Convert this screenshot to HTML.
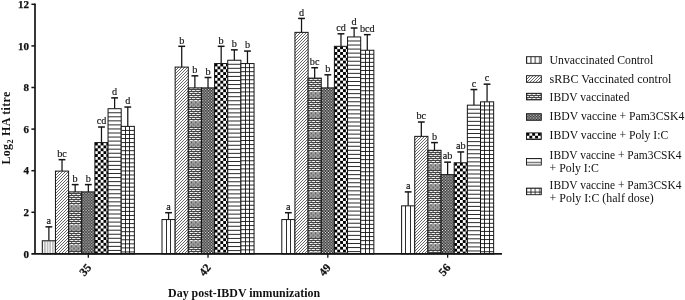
<!DOCTYPE html>
<html lang="en"><head><meta charset="utf-8"><title>Log2 HA titre chart</title>
<style>
html,body{margin:0;padding:0;background:#fff;}
body{width:685px;height:300px;overflow:hidden;font-family:"Liberation Serif","DejaVu Serif",serif;}
svg{display:block;}
</style></head><body>
<svg width="685" height="300" viewBox="0 0 685 300" font-family="'Liberation Serif', 'DejaVu Serif', serif" fill="#111">

<defs>
<pattern id="pv" width="4.383" height="8" patternUnits="userSpaceOnUse"><rect width="4.383" height="8" fill="#fff"/><rect x="-0.45" y="0" width="0.9" height="8" fill="#141414"/><rect x="3.933" y="0" width="0.9" height="8" fill="#141414"/></pattern>
<pattern id="pv5" width="2.630" height="8" patternUnits="userSpaceOnUse"><rect width="2.630" height="8" fill="#fff"/><rect x="-0.5" y="0" width="1" height="8" fill="#909090"/><rect x="2.130" y="0" width="1" height="8" fill="#909090"/></pattern>
<pattern id="ph" width="8" height="4.05" patternUnits="userSpaceOnUse"><rect width="8" height="4.05" fill="#fff"/><rect x="0" y="-0.45" width="8" height="0.9" fill="#141414"/><rect x="0" y="3.600" width="8" height="0.9" fill="#141414"/></pattern>
<pattern id="pg" width="4.383" height="4.05" patternUnits="userSpaceOnUse"><rect width="4.383" height="4.05" fill="#fff"/><rect x="0" y="-0.42" width="4.383" height="0.84" fill="#141414"/><rect x="0" y="3.630" width="4.383" height="0.84" fill="#141414"/><rect x="-0.42" y="0" width="0.84" height="4.05" fill="#141414"/><rect x="3.963" y="0" width="0.84" height="4.05" fill="#141414"/></pattern>
<pattern id="pd" width="3.000" height="3.000" patternUnits="userSpaceOnUse"><rect width="3.000" height="3.000" fill="#fff"/><path d="M-1,4.000 L4.000,-1 M-1,1 L1,-1 M2.000,4.000 L4.000,2.000" stroke="#2a2a2a" stroke-width="0.72"/></pattern>
<pattern id="pb" width="4.383" height="20" patternUnits="userSpaceOnUse"><rect width="4.383" height="20" fill="#f2f2f2"/><rect x="0" y="0" width="4.383" height="1" fill="#444"/><rect x="0.40" y="1" width="1.0" height="1" fill="#444"/><rect x="0" y="2" width="4.383" height="1" fill="#444"/><rect x="2.59" y="3" width="1.0" height="1" fill="#444"/><rect x="0" y="4" width="4.383" height="1" fill="#444"/><rect x="0.40" y="5" width="1.0" height="1" fill="#444"/><rect x="0" y="6" width="4.383" height="1" fill="#444"/><rect x="2.59" y="7" width="1.0" height="1" fill="#444"/><rect x="0" y="8" width="4.383" height="1" fill="#444"/><rect x="0.40" y="9" width="1.0" height="1" fill="#444"/><rect x="0" y="10" width="4.383" height="1" fill="#444"/><rect x="2.59" y="11" width="1.0" height="1" fill="#444"/><rect x="0" y="12" width="4.383" height="1" fill="#444"/><rect x="0.40" y="13" width="1.0" height="1" fill="#444"/><rect x="0" y="14.5" width="4.383" height="1" fill="#555"/><rect x="2.59" y="14.5" width="1.1" height="2" fill="#505050"/><rect x="0" y="16.5" width="4.383" height="1" fill="#555"/><rect x="0.40" y="16.5" width="1.1" height="2" fill="#505050"/><rect x="0" y="18.5" width="4.383" height="1" fill="#555"/><rect x="2.59" y="18.5" width="1.1" height="2" fill="#505050"/></pattern>
<pattern id="pf" width="20.046" height="20.046" patternUnits="userSpaceOnUse"><rect width="20.046" height="20.046" fill="#000"/><g fill="#fff"><circle cx="0.00" cy="0.00" r="0.8"/><circle cx="0.00" cy="2.86" r="0.8"/><circle cx="0.00" cy="5.73" r="0.8"/><circle cx="0.00" cy="8.59" r="0.8"/><circle cx="0.00" cy="11.46" r="0.8"/><circle cx="0.00" cy="14.32" r="0.8"/><circle cx="0.00" cy="17.18" r="0.8"/><circle cx="0.00" cy="20.05" r="0.8"/><circle cx="1.43" cy="1.43" r="0.8"/><circle cx="1.43" cy="4.30" r="0.8"/><circle cx="1.43" cy="7.16" r="0.8"/><circle cx="1.43" cy="10.02" r="0.8"/><circle cx="1.43" cy="12.89" r="0.8"/><circle cx="1.43" cy="15.75" r="0.8"/><circle cx="1.43" cy="18.61" r="0.8"/><circle cx="2.86" cy="0.00" r="0.8"/><circle cx="2.86" cy="2.86" r="0.8"/><circle cx="2.86" cy="5.73" r="0.8"/><circle cx="2.86" cy="8.59" r="0.8"/><circle cx="2.86" cy="11.46" r="0.8"/><circle cx="2.86" cy="14.32" r="0.8"/><circle cx="2.86" cy="17.18" r="0.8"/><circle cx="2.86" cy="20.05" r="0.8"/><circle cx="4.30" cy="1.43" r="0.8"/><circle cx="4.30" cy="4.30" r="0.8"/><circle cx="4.30" cy="7.16" r="0.8"/><circle cx="4.30" cy="10.02" r="0.8"/><circle cx="4.30" cy="12.89" r="0.8"/><circle cx="4.30" cy="15.75" r="0.8"/><circle cx="4.30" cy="18.61" r="0.8"/><circle cx="5.73" cy="0.00" r="0.8"/><circle cx="5.73" cy="2.86" r="0.8"/><circle cx="5.73" cy="5.73" r="0.8"/><circle cx="5.73" cy="8.59" r="0.8"/><circle cx="5.73" cy="11.46" r="0.8"/><circle cx="5.73" cy="14.32" r="0.8"/><circle cx="5.73" cy="17.18" r="0.8"/><circle cx="5.73" cy="20.05" r="0.8"/><circle cx="7.16" cy="1.43" r="0.8"/><circle cx="7.16" cy="4.30" r="0.8"/><circle cx="7.16" cy="7.16" r="0.8"/><circle cx="7.16" cy="10.02" r="0.8"/><circle cx="7.16" cy="12.89" r="0.8"/><circle cx="7.16" cy="15.75" r="0.8"/><circle cx="7.16" cy="18.61" r="0.8"/><circle cx="8.59" cy="0.00" r="0.8"/><circle cx="8.59" cy="2.86" r="0.8"/><circle cx="8.59" cy="5.73" r="0.8"/><circle cx="8.59" cy="8.59" r="0.8"/><circle cx="8.59" cy="11.46" r="0.8"/><circle cx="8.59" cy="14.32" r="0.8"/><circle cx="8.59" cy="17.18" r="0.8"/><circle cx="8.59" cy="20.05" r="0.8"/><circle cx="10.02" cy="1.43" r="0.8"/><circle cx="10.02" cy="4.30" r="0.8"/><circle cx="10.02" cy="7.16" r="0.8"/><circle cx="10.02" cy="10.02" r="0.8"/><circle cx="10.02" cy="12.89" r="0.8"/><circle cx="10.02" cy="15.75" r="0.8"/><circle cx="10.02" cy="18.61" r="0.8"/><circle cx="11.46" cy="0.00" r="0.8"/><circle cx="11.46" cy="2.86" r="0.8"/><circle cx="11.46" cy="5.73" r="0.8"/><circle cx="11.46" cy="8.59" r="0.8"/><circle cx="11.46" cy="11.46" r="0.8"/><circle cx="11.46" cy="14.32" r="0.8"/><circle cx="11.46" cy="17.18" r="0.8"/><circle cx="11.46" cy="20.05" r="0.8"/><circle cx="12.89" cy="1.43" r="0.8"/><circle cx="12.89" cy="4.30" r="0.8"/><circle cx="12.89" cy="7.16" r="0.8"/><circle cx="12.89" cy="10.02" r="0.8"/><circle cx="12.89" cy="12.89" r="0.8"/><circle cx="12.89" cy="15.75" r="0.8"/><circle cx="12.89" cy="18.61" r="0.8"/><circle cx="14.32" cy="0.00" r="0.8"/><circle cx="14.32" cy="2.86" r="0.8"/><circle cx="14.32" cy="5.73" r="0.8"/><circle cx="14.32" cy="8.59" r="0.8"/><circle cx="14.32" cy="11.46" r="0.8"/><circle cx="14.32" cy="14.32" r="0.8"/><circle cx="14.32" cy="17.18" r="0.8"/><circle cx="14.32" cy="20.05" r="0.8"/><circle cx="15.75" cy="1.43" r="0.8"/><circle cx="15.75" cy="4.30" r="0.8"/><circle cx="15.75" cy="7.16" r="0.8"/><circle cx="15.75" cy="10.02" r="0.8"/><circle cx="15.75" cy="12.89" r="0.8"/><circle cx="15.75" cy="15.75" r="0.8"/><circle cx="15.75" cy="18.61" r="0.8"/><circle cx="17.18" cy="0.00" r="0.8"/><circle cx="17.18" cy="2.86" r="0.8"/><circle cx="17.18" cy="5.73" r="0.8"/><circle cx="17.18" cy="8.59" r="0.8"/><circle cx="17.18" cy="11.46" r="0.8"/><circle cx="17.18" cy="14.32" r="0.8"/><circle cx="17.18" cy="17.18" r="0.8"/><circle cx="17.18" cy="20.05" r="0.8"/><circle cx="18.61" cy="1.43" r="0.8"/><circle cx="18.61" cy="4.30" r="0.8"/><circle cx="18.61" cy="7.16" r="0.8"/><circle cx="18.61" cy="10.02" r="0.8"/><circle cx="18.61" cy="12.89" r="0.8"/><circle cx="18.61" cy="15.75" r="0.8"/><circle cx="18.61" cy="18.61" r="0.8"/><circle cx="20.05" cy="0.00" r="0.8"/><circle cx="20.05" cy="2.86" r="0.8"/><circle cx="20.05" cy="5.73" r="0.8"/><circle cx="20.05" cy="8.59" r="0.8"/><circle cx="20.05" cy="11.46" r="0.8"/><circle cx="20.05" cy="14.32" r="0.8"/><circle cx="20.05" cy="17.18" r="0.8"/><circle cx="20.05" cy="20.05" r="0.8"/></g></pattern>
<pattern id="pc" width="5.728" height="5.728" patternUnits="userSpaceOnUse"><rect width="5.728" height="5.728" fill="#fff"/><rect x="0" y="0" width="2.864" height="2.864" fill="#000"/><rect x="2.864" y="2.864" width="2.864" height="2.864" fill="#000"/></pattern>
</defs>

<rect width="685" height="300" fill="#fff"/>
<path d="M48.88,240.78 V226.84" stroke="#141414" stroke-width="1.25" fill="none"/><path d="M45.48,226.84 H52.27" stroke="#141414" stroke-width="1.5" fill="none"/>
<g transform="translate(42.30,240.78)"><rect x="0.00" y="0.00" width="13.15" height="13.12" fill="url(#pv5)" stroke="#141414" stroke-width="1"/></g>
<text x="48.88" y="224.14" font-size="10.2" stroke="#111" stroke-width="0.15" text-anchor="middle">a</text>
<path d="M62.02,171.10 V159.66" stroke="#141414" stroke-width="1.25" fill="none"/><path d="M58.62,159.66 H65.42" stroke="#141414" stroke-width="1.5" fill="none"/>
<g transform="translate(0.00,0.00)"><rect x="55.45" y="171.10" width="13.15" height="82.80" fill="url(#pd)" stroke="#141414" stroke-width="1"/></g>
<text x="62.02" y="156.96" font-size="10.2" stroke="#111" stroke-width="0.15" text-anchor="middle">bc</text>
<path d="M75.17,191.90 V184.62" stroke="#141414" stroke-width="1.25" fill="none"/><path d="M71.77,184.62 H78.58" stroke="#141414" stroke-width="1.5" fill="none"/>
<g transform="translate(68.60,191.00)"><rect x="0.00" y="0.90" width="13.15" height="62.00" fill="url(#pb)" stroke="#141414" stroke-width="1"/></g>
<text x="75.17" y="181.92" font-size="10.2" stroke="#111" stroke-width="0.15" text-anchor="middle">b</text>
<path d="M88.33,191.90 V184.62" stroke="#141414" stroke-width="1.25" fill="none"/><path d="M84.92,184.62 H91.73" stroke="#141414" stroke-width="1.5" fill="none"/>
<g transform="translate(81.75,191.90)"><rect x="0.00" y="0.00" width="13.15" height="62.00" fill="url(#pf)" stroke="#141414" stroke-width="1"/></g>
<text x="88.33" y="181.92" font-size="10.2" stroke="#111" stroke-width="0.15" text-anchor="middle">b</text>
<path d="M101.48,142.60 V127.00" stroke="#141414" stroke-width="1.25" fill="none"/><path d="M98.08,127.00 H104.88" stroke="#141414" stroke-width="1.5" fill="none"/>
<g transform="translate(94.90,142.60)"><rect x="0.00" y="0.00" width="13.15" height="111.30" fill="url(#pc)" stroke="#141414" stroke-width="1"/></g>
<text x="101.48" y="124.30" font-size="10.2" stroke="#111" stroke-width="0.15" text-anchor="middle">cd</text>
<path d="M114.62,108.70 V97.88" stroke="#141414" stroke-width="1.25" fill="none"/><path d="M111.22,97.88 H118.03" stroke="#141414" stroke-width="1.5" fill="none"/>
<rect x="108.05" y="108.70" width="13.15" height="145.20" fill="#fff" stroke="#141414" stroke-width="1"/><path d="M108.05,112.75h13.15M108.05,116.80h13.15M108.05,120.85h13.15M108.05,124.90h13.15M108.05,128.95h13.15M108.05,133.00h13.15M108.05,137.05h13.15M108.05,141.10h13.15M108.05,145.15h13.15M108.05,149.20h13.15M108.05,153.25h13.15M108.05,157.30h13.15M108.05,161.35h13.15M108.05,165.40h13.15M108.05,169.45h13.15M108.05,173.50h13.15M108.05,177.55h13.15M108.05,181.60h13.15M108.05,185.65h13.15M108.05,189.70h13.15M108.05,193.75h13.15M108.05,197.80h13.15M108.05,201.85h13.15M108.05,205.90h13.15M108.05,209.95h13.15M108.05,214.00h13.15M108.05,218.05h13.15M108.05,222.10h13.15M108.05,226.15h13.15M108.05,230.20h13.15M108.05,234.25h13.15M108.05,238.30h13.15M108.05,242.35h13.15M108.05,246.40h13.15M108.05,250.45h13.15" stroke="#141414" stroke-width="0.9" fill="none"/>
<text x="114.62" y="95.18" font-size="10.2" stroke="#111" stroke-width="0.15" text-anchor="middle">d</text>
<path d="M127.78,126.38 V107.04" stroke="#141414" stroke-width="1.25" fill="none"/><path d="M124.38,107.04 H131.18" stroke="#141414" stroke-width="1.5" fill="none"/>
<rect x="121.20" y="126.38" width="13.15" height="127.52" fill="#fff" stroke="#141414" stroke-width="1"/><path d="M125.5,126.38V253.90M129.5,126.38V253.90M121.20,130.43h13.15M121.20,134.48h13.15M121.20,138.53h13.15M121.20,142.58h13.15M121.20,146.63h13.15M121.20,150.68h13.15M121.20,154.73h13.15M121.20,158.78h13.15M121.20,162.83h13.15M121.20,166.88h13.15M121.20,170.93h13.15M121.20,174.98h13.15M121.20,179.03h13.15M121.20,183.08h13.15M121.20,187.13h13.15M121.20,191.18h13.15M121.20,195.23h13.15M121.20,199.28h13.15M121.20,203.33h13.15M121.20,207.38h13.15M121.20,211.43h13.15M121.20,215.48h13.15M121.20,219.53h13.15M121.20,223.58h13.15M121.20,227.63h13.15M121.20,231.68h13.15M121.20,235.73h13.15M121.20,239.78h13.15M121.20,243.83h13.15M121.20,247.88h13.15M121.20,251.93h13.15" stroke="#141414" stroke-width="0.9" fill="none"/>
<text x="127.78" y="104.34" font-size="10.2" stroke="#111" stroke-width="0.15" text-anchor="middle">d</text>
<path d="M168.57,219.56 V212.70" stroke="#141414" stroke-width="1.25" fill="none"/><path d="M165.17,212.70 H171.97" stroke="#141414" stroke-width="1.5" fill="none"/>
<rect x="162.00" y="219.56" width="13.15" height="34.34" fill="#fff" stroke="#141414" stroke-width="1"/><path d="M166.5,219.56V253.90M170.5,219.56V253.90" stroke="#141414" stroke-width="0.9" fill="none"/>
<text x="168.57" y="210.00" font-size="10.2" stroke="#111" stroke-width="0.15" text-anchor="middle">a</text>
<path d="M181.72,67.10 V46.30" stroke="#141414" stroke-width="1.25" fill="none"/><path d="M178.32,46.30 H185.12" stroke="#141414" stroke-width="1.5" fill="none"/>
<g transform="translate(0.00,0.00)"><rect x="175.15" y="67.10" width="13.15" height="186.80" fill="url(#pd)" stroke="#141414" stroke-width="1"/></g>
<text x="181.72" y="43.60" font-size="10.2" stroke="#111" stroke-width="0.15" text-anchor="middle">b</text>
<path d="M194.88,87.90 V75.84" stroke="#141414" stroke-width="1.25" fill="none"/><path d="M191.47,75.84 H198.28" stroke="#141414" stroke-width="1.5" fill="none"/>
<g transform="translate(188.30,87.00)"><rect x="0.00" y="0.90" width="13.15" height="166.00" fill="url(#pb)" stroke="#141414" stroke-width="1"/></g>
<text x="194.88" y="73.14" font-size="10.2" stroke="#111" stroke-width="0.15" text-anchor="middle">b</text>
<path d="M208.02,87.90 V77.50" stroke="#141414" stroke-width="1.25" fill="none"/><path d="M204.62,77.50 H211.42" stroke="#141414" stroke-width="1.5" fill="none"/>
<g transform="translate(201.45,87.90)"><rect x="0.00" y="0.00" width="13.15" height="166.00" fill="url(#pf)" stroke="#141414" stroke-width="1"/></g>
<text x="208.02" y="74.80" font-size="10.2" stroke="#111" stroke-width="0.15" text-anchor="middle">b</text>
<path d="M221.17,63.56 V46.30" stroke="#141414" stroke-width="1.25" fill="none"/><path d="M217.77,46.30 H224.57" stroke="#141414" stroke-width="1.5" fill="none"/>
<g transform="translate(214.60,63.56)"><rect x="0.00" y="0.00" width="13.15" height="190.34" fill="url(#pc)" stroke="#141414" stroke-width="1"/></g>
<text x="221.17" y="43.60" font-size="10.2" stroke="#111" stroke-width="0.15" text-anchor="middle">b</text>
<path d="M234.32,60.24 V49.84" stroke="#141414" stroke-width="1.25" fill="none"/><path d="M230.92,49.84 H237.72" stroke="#141414" stroke-width="1.5" fill="none"/>
<rect x="227.75" y="60.24" width="13.15" height="193.66" fill="#fff" stroke="#141414" stroke-width="1"/><path d="M227.75,64.29h13.15M227.75,68.34h13.15M227.75,72.39h13.15M227.75,76.44h13.15M227.75,80.49h13.15M227.75,84.54h13.15M227.75,88.59h13.15M227.75,92.64h13.15M227.75,96.69h13.15M227.75,100.74h13.15M227.75,104.79h13.15M227.75,108.84h13.15M227.75,112.89h13.15M227.75,116.94h13.15M227.75,120.99h13.15M227.75,125.04h13.15M227.75,129.09h13.15M227.75,133.14h13.15M227.75,137.19h13.15M227.75,141.24h13.15M227.75,145.29h13.15M227.75,149.34h13.15M227.75,153.39h13.15M227.75,157.44h13.15M227.75,161.49h13.15M227.75,165.54h13.15M227.75,169.59h13.15M227.75,173.64h13.15M227.75,177.69h13.15M227.75,181.74h13.15M227.75,185.79h13.15M227.75,189.84h13.15M227.75,193.89h13.15M227.75,197.94h13.15M227.75,201.99h13.15M227.75,206.04h13.15M227.75,210.09h13.15M227.75,214.14h13.15M227.75,218.19h13.15M227.75,222.24h13.15M227.75,226.29h13.15M227.75,230.34h13.15M227.75,234.39h13.15M227.75,238.44h13.15M227.75,242.49h13.15M227.75,246.54h13.15M227.75,250.59h13.15" stroke="#141414" stroke-width="0.9" fill="none"/>
<text x="234.32" y="47.14" font-size="10.2" stroke="#111" stroke-width="0.15" text-anchor="middle">b</text>
<path d="M247.47,63.56 V51.08" stroke="#141414" stroke-width="1.25" fill="none"/><path d="M244.07,51.08 H250.88" stroke="#141414" stroke-width="1.5" fill="none"/>
<rect x="240.90" y="63.56" width="13.15" height="190.34" fill="#fff" stroke="#141414" stroke-width="1"/><path d="M245.5,63.56V253.90M249.5,63.56V253.90M240.90,67.61h13.15M240.90,71.66h13.15M240.90,75.71h13.15M240.90,79.76h13.15M240.90,83.81h13.15M240.90,87.86h13.15M240.90,91.91h13.15M240.90,95.96h13.15M240.90,100.01h13.15M240.90,104.06h13.15M240.90,108.11h13.15M240.90,112.16h13.15M240.90,116.21h13.15M240.90,120.26h13.15M240.90,124.31h13.15M240.90,128.36h13.15M240.90,132.41h13.15M240.90,136.46h13.15M240.90,140.51h13.15M240.90,144.56h13.15M240.90,148.61h13.15M240.90,152.66h13.15M240.90,156.71h13.15M240.90,160.76h13.15M240.90,164.81h13.15M240.90,168.86h13.15M240.90,172.91h13.15M240.90,176.96h13.15M240.90,181.01h13.15M240.90,185.06h13.15M240.90,189.11h13.15M240.90,193.16h13.15M240.90,197.21h13.15M240.90,201.26h13.15M240.90,205.31h13.15M240.90,209.36h13.15M240.90,213.41h13.15M240.90,217.46h13.15M240.90,221.51h13.15M240.90,225.56h13.15M240.90,229.61h13.15M240.90,233.66h13.15M240.90,237.71h13.15M240.90,241.76h13.15M240.90,245.81h13.15M240.90,249.86h13.15" stroke="#141414" stroke-width="0.9" fill="none"/>
<text x="247.47" y="48.38" font-size="10.2" stroke="#111" stroke-width="0.15" text-anchor="middle">b</text>
<path d="M288.38,219.56 V212.70" stroke="#141414" stroke-width="1.25" fill="none"/><path d="M284.98,212.70 H291.77" stroke="#141414" stroke-width="1.5" fill="none"/>
<rect x="281.80" y="219.56" width="13.15" height="34.34" fill="#fff" stroke="#141414" stroke-width="1"/><path d="M286.5,219.56V253.90M290.5,219.56V253.90" stroke="#141414" stroke-width="0.9" fill="none"/>
<text x="288.38" y="210.00" font-size="10.2" stroke="#111" stroke-width="0.15" text-anchor="middle">a</text>
<path d="M301.52,32.36 V18.43" stroke="#141414" stroke-width="1.25" fill="none"/><path d="M298.12,18.43 H304.92" stroke="#141414" stroke-width="1.5" fill="none"/>
<g transform="translate(0.00,0.00)"><rect x="294.95" y="32.36" width="13.15" height="221.54" fill="url(#pd)" stroke="#141414" stroke-width="1"/></g>
<text x="301.52" y="15.73" font-size="10.2" stroke="#111" stroke-width="0.15" text-anchor="middle">d</text>
<path d="M314.68,78.12 V67.72" stroke="#141414" stroke-width="1.25" fill="none"/><path d="M311.28,67.72 H318.07" stroke="#141414" stroke-width="1.5" fill="none"/>
<g transform="translate(308.10,78.00)"><rect x="0.00" y="0.12" width="13.15" height="175.78" fill="url(#pb)" stroke="#141414" stroke-width="1"/></g>
<text x="314.68" y="65.02" font-size="10.2" stroke="#111" stroke-width="0.15" text-anchor="middle">bc</text>
<path d="M327.82,87.90 V74.80" stroke="#141414" stroke-width="1.25" fill="none"/><path d="M324.43,74.80 H331.22" stroke="#141414" stroke-width="1.5" fill="none"/>
<g transform="translate(321.25,87.90)"><rect x="0.00" y="0.00" width="13.15" height="166.00" fill="url(#pf)" stroke="#141414" stroke-width="1"/></g>
<text x="327.82" y="72.10" font-size="10.2" stroke="#111" stroke-width="0.15" text-anchor="middle">b</text>
<path d="M340.98,46.30 V33.82" stroke="#141414" stroke-width="1.25" fill="none"/><path d="M337.58,33.82 H344.38" stroke="#141414" stroke-width="1.5" fill="none"/>
<g transform="translate(334.40,46.30)"><rect x="0.00" y="0.00" width="13.15" height="207.60" fill="url(#pc)" stroke="#141414" stroke-width="1"/></g>
<text x="340.98" y="31.12" font-size="10.2" stroke="#111" stroke-width="0.15" text-anchor="middle">cd</text>
<path d="M354.12,36.94 V28.00" stroke="#141414" stroke-width="1.25" fill="none"/><path d="M350.73,28.00 H357.52" stroke="#141414" stroke-width="1.5" fill="none"/>
<rect x="347.55" y="36.94" width="13.15" height="216.96" fill="#fff" stroke="#141414" stroke-width="1"/><path d="M347.55,40.99h13.15M347.55,45.04h13.15M347.55,49.09h13.15M347.55,53.14h13.15M347.55,57.19h13.15M347.55,61.24h13.15M347.55,65.29h13.15M347.55,69.34h13.15M347.55,73.39h13.15M347.55,77.44h13.15M347.55,81.49h13.15M347.55,85.54h13.15M347.55,89.59h13.15M347.55,93.64h13.15M347.55,97.69h13.15M347.55,101.74h13.15M347.55,105.79h13.15M347.55,109.84h13.15M347.55,113.89h13.15M347.55,117.94h13.15M347.55,121.99h13.15M347.55,126.04h13.15M347.55,130.09h13.15M347.55,134.14h13.15M347.55,138.19h13.15M347.55,142.24h13.15M347.55,146.29h13.15M347.55,150.34h13.15M347.55,154.39h13.15M347.55,158.44h13.15M347.55,162.49h13.15M347.55,166.54h13.15M347.55,170.59h13.15M347.55,174.64h13.15M347.55,178.69h13.15M347.55,182.74h13.15M347.55,186.79h13.15M347.55,190.84h13.15M347.55,194.89h13.15M347.55,198.94h13.15M347.55,202.99h13.15M347.55,207.04h13.15M347.55,211.09h13.15M347.55,215.14h13.15M347.55,219.19h13.15M347.55,223.24h13.15M347.55,227.29h13.15M347.55,231.34h13.15M347.55,235.39h13.15M347.55,239.44h13.15M347.55,243.49h13.15M347.55,247.54h13.15M347.55,251.59h13.15" stroke="#141414" stroke-width="0.9" fill="none"/>
<text x="354.12" y="25.30" font-size="10.2" stroke="#111" stroke-width="0.15" text-anchor="middle">d</text>
<path d="M367.28,50.25 V34.65" stroke="#141414" stroke-width="1.25" fill="none"/><path d="M363.88,34.65 H370.68" stroke="#141414" stroke-width="1.5" fill="none"/>
<rect x="360.70" y="50.25" width="13.15" height="203.65" fill="#fff" stroke="#141414" stroke-width="1"/><path d="M365.5,50.25V253.90M369.5,50.25V253.90M360.70,54.30h13.15M360.70,58.35h13.15M360.70,62.40h13.15M360.70,66.45h13.15M360.70,70.50h13.15M360.70,74.55h13.15M360.70,78.60h13.15M360.70,82.65h13.15M360.70,86.70h13.15M360.70,90.75h13.15M360.70,94.80h13.15M360.70,98.85h13.15M360.70,102.90h13.15M360.70,106.95h13.15M360.70,111.00h13.15M360.70,115.05h13.15M360.70,119.10h13.15M360.70,123.15h13.15M360.70,127.20h13.15M360.70,131.25h13.15M360.70,135.30h13.15M360.70,139.35h13.15M360.70,143.40h13.15M360.70,147.45h13.15M360.70,151.50h13.15M360.70,155.55h13.15M360.70,159.60h13.15M360.70,163.65h13.15M360.70,167.70h13.15M360.70,171.75h13.15M360.70,175.80h13.15M360.70,179.85h13.15M360.70,183.90h13.15M360.70,187.95h13.15M360.70,192.00h13.15M360.70,196.05h13.15M360.70,200.10h13.15M360.70,204.15h13.15M360.70,208.20h13.15M360.70,212.25h13.15M360.70,216.30h13.15M360.70,220.35h13.15M360.70,224.40h13.15M360.70,228.45h13.15M360.70,232.50h13.15M360.70,236.55h13.15M360.70,240.60h13.15M360.70,244.65h13.15M360.70,248.70h13.15" stroke="#141414" stroke-width="0.9" fill="none"/>
<text x="367.28" y="31.95" font-size="10.2" stroke="#111" stroke-width="0.15" text-anchor="middle">bcd</text>
<path d="M408.18,205.84 V191.90" stroke="#141414" stroke-width="1.25" fill="none"/><path d="M404.78,191.90 H411.57" stroke="#141414" stroke-width="1.5" fill="none"/>
<rect x="401.60" y="205.84" width="13.15" height="48.06" fill="#fff" stroke="#141414" stroke-width="1"/><path d="M405.5,205.84V253.90M410.5,205.84V253.90" stroke="#141414" stroke-width="0.9" fill="none"/>
<text x="408.18" y="189.20" font-size="10.2" stroke="#111" stroke-width="0.15" text-anchor="middle">a</text>
<path d="M421.32,136.36 V122.01" stroke="#141414" stroke-width="1.25" fill="none"/><path d="M417.93,122.01 H424.72" stroke="#141414" stroke-width="1.5" fill="none"/>
<g transform="translate(0.00,0.00)"><rect x="414.75" y="136.36" width="13.15" height="117.54" fill="url(#pd)" stroke="#141414" stroke-width="1"/></g>
<text x="421.32" y="119.31" font-size="10.2" stroke="#111" stroke-width="0.15" text-anchor="middle">bc</text>
<path d="M434.48,150.30 V142.60" stroke="#141414" stroke-width="1.25" fill="none"/><path d="M431.08,142.60 H437.88" stroke="#141414" stroke-width="1.5" fill="none"/>
<g transform="translate(427.90,150.00)"><rect x="0.00" y="0.30" width="13.15" height="103.60" fill="url(#pb)" stroke="#141414" stroke-width="1"/></g>
<text x="434.48" y="139.90" font-size="10.2" stroke="#111" stroke-width="0.15" text-anchor="middle">b</text>
<path d="M447.62,174.64 V162.16" stroke="#141414" stroke-width="1.25" fill="none"/><path d="M444.23,162.16 H451.02" stroke="#141414" stroke-width="1.5" fill="none"/>
<g transform="translate(441.05,174.64)"><rect x="0.00" y="0.00" width="13.15" height="79.26" fill="url(#pf)" stroke="#141414" stroke-width="1"/></g>
<text x="447.62" y="159.46" font-size="10.2" stroke="#111" stroke-width="0.15" text-anchor="middle">ab</text>
<path d="M460.78,162.78 V151.96" stroke="#141414" stroke-width="1.25" fill="none"/><path d="M457.38,151.96 H464.18" stroke="#141414" stroke-width="1.5" fill="none"/>
<g transform="translate(454.20,162.78)"><rect x="0.00" y="0.00" width="13.15" height="91.12" fill="url(#pc)" stroke="#141414" stroke-width="1"/></g>
<text x="460.78" y="149.26" font-size="10.2" stroke="#111" stroke-width="0.15" text-anchor="middle">ab</text>
<path d="M473.93,105.16 V89.56" stroke="#141414" stroke-width="1.25" fill="none"/><path d="M470.53,89.56 H477.32" stroke="#141414" stroke-width="1.5" fill="none"/>
<rect x="467.35" y="105.16" width="13.15" height="148.74" fill="#fff" stroke="#141414" stroke-width="1"/><path d="M467.35,109.21h13.15M467.35,113.26h13.15M467.35,117.31h13.15M467.35,121.36h13.15M467.35,125.41h13.15M467.35,129.46h13.15M467.35,133.51h13.15M467.35,137.56h13.15M467.35,141.61h13.15M467.35,145.66h13.15M467.35,149.71h13.15M467.35,153.76h13.15M467.35,157.81h13.15M467.35,161.86h13.15M467.35,165.91h13.15M467.35,169.96h13.15M467.35,174.01h13.15M467.35,178.06h13.15M467.35,182.11h13.15M467.35,186.16h13.15M467.35,190.21h13.15M467.35,194.26h13.15M467.35,198.31h13.15M467.35,202.36h13.15M467.35,206.41h13.15M467.35,210.46h13.15M467.35,214.51h13.15M467.35,218.56h13.15M467.35,222.61h13.15M467.35,226.66h13.15M467.35,230.71h13.15M467.35,234.76h13.15M467.35,238.81h13.15M467.35,242.86h13.15M467.35,246.91h13.15M467.35,250.96h13.15" stroke="#141414" stroke-width="0.9" fill="none"/>
<text x="473.93" y="86.86" font-size="10.2" stroke="#111" stroke-width="0.15" text-anchor="middle">c</text>
<path d="M487.07,101.84 V84.16" stroke="#141414" stroke-width="1.25" fill="none"/><path d="M483.68,84.16 H490.47" stroke="#141414" stroke-width="1.5" fill="none"/>
<rect x="480.50" y="101.84" width="13.15" height="152.06" fill="#fff" stroke="#141414" stroke-width="1"/><path d="M484.5,101.84V253.90M489.5,101.84V253.90M480.50,105.89h13.15M480.50,109.94h13.15M480.50,113.99h13.15M480.50,118.04h13.15M480.50,122.09h13.15M480.50,126.14h13.15M480.50,130.19h13.15M480.50,134.24h13.15M480.50,138.29h13.15M480.50,142.34h13.15M480.50,146.39h13.15M480.50,150.44h13.15M480.50,154.49h13.15M480.50,158.54h13.15M480.50,162.59h13.15M480.50,166.64h13.15M480.50,170.69h13.15M480.50,174.74h13.15M480.50,178.79h13.15M480.50,182.84h13.15M480.50,186.89h13.15M480.50,190.94h13.15M480.50,194.99h13.15M480.50,199.04h13.15M480.50,203.09h13.15M480.50,207.14h13.15M480.50,211.19h13.15M480.50,215.24h13.15M480.50,219.29h13.15M480.50,223.34h13.15M480.50,227.39h13.15M480.50,231.44h13.15M480.50,235.49h13.15M480.50,239.54h13.15M480.50,243.59h13.15M480.50,247.64h13.15M480.50,251.69h13.15" stroke="#141414" stroke-width="0.9" fill="none"/>
<text x="487.07" y="81.46" font-size="10.2" stroke="#111" stroke-width="0.15" text-anchor="middle">c</text>
<path d="M35.0,3.4 V253.9" stroke="#141414" stroke-width="1.7" fill="none"/>
<path d="M31.4,253.9 H502" stroke="#141414" stroke-width="1.8" fill="none"/>
<path d="M31.4,212.30 H35.0" stroke="#141414" stroke-width="1.5"/>
<path d="M31.4,170.70 H35.0" stroke="#141414" stroke-width="1.5"/>
<path d="M31.4,129.10 H35.0" stroke="#141414" stroke-width="1.5"/>
<path d="M31.4,87.50 H35.0" stroke="#141414" stroke-width="1.5"/>
<path d="M31.4,45.90 H35.0" stroke="#141414" stroke-width="1.5"/>
<path d="M31.4,4.30 H35.0" stroke="#141414" stroke-width="1.5"/>
<text x="28.9" y="257.60" font-size="11" font-weight="bold" text-anchor="end" stroke="#111" stroke-width="0.25">0</text>
<text x="28.9" y="216.00" font-size="11" font-weight="bold" text-anchor="end" stroke="#111" stroke-width="0.25">2</text>
<text x="28.9" y="174.40" font-size="11" font-weight="bold" text-anchor="end" stroke="#111" stroke-width="0.25">4</text>
<text x="28.9" y="132.80" font-size="11" font-weight="bold" text-anchor="end" stroke="#111" stroke-width="0.25">6</text>
<text x="28.9" y="91.20" font-size="11" font-weight="bold" text-anchor="end" stroke="#111" stroke-width="0.25">8</text>
<text x="28.9" y="49.60" font-size="11" font-weight="bold" text-anchor="end" stroke="#111" stroke-width="0.25">10</text>
<text x="28.9" y="8.00" font-size="11" font-weight="bold" text-anchor="end" stroke="#111" stroke-width="0.25">12</text>
<path d="M88.32,253.9 V257.7" stroke="#141414" stroke-width="1.3"/>
<text transform="translate(85.32,269.90) rotate(-50)" font-size="11.5" font-weight="bold" text-anchor="middle" y="3.7" stroke="#111" stroke-width="0.25">35</text>
<path d="M208.03,253.9 V257.7" stroke="#141414" stroke-width="1.3"/>
<text transform="translate(205.03,269.90) rotate(-50)" font-size="11.5" font-weight="bold" text-anchor="middle" y="3.7" stroke="#111" stroke-width="0.25">42</text>
<path d="M327.82,253.9 V257.7" stroke="#141414" stroke-width="1.3"/>
<text transform="translate(324.82,269.90) rotate(-50)" font-size="11.5" font-weight="bold" text-anchor="middle" y="3.7" stroke="#111" stroke-width="0.25">49</text>
<path d="M447.62,253.9 V257.7" stroke="#141414" stroke-width="1.3"/>
<text transform="translate(444.62,269.90) rotate(-50)" font-size="11.5" font-weight="bold" text-anchor="middle" y="3.7" stroke="#111" stroke-width="0.25">56</text>
<text x="244.1" y="296.8" font-size="11.6" font-weight="bold" text-anchor="middle" textLength="152" lengthAdjust="spacingAndGlyphs">Day post-IBDV immunization</text>
<text transform="translate(10,128) rotate(-90)" font-size="12" font-weight="bold" text-anchor="middle" letter-spacing="0.3">Log<tspan font-size="8" dy="2.5">2</tspan><tspan dy="-2.5"> HA titre</tspan></text>
<g transform="translate(526.5,56.70)"><rect x="0" y="0" width="14.8" height="6.6" fill="url(#pv)" stroke="#141414" stroke-width="0.9"/></g>
<text x="549.6" y="63.70" font-size="11.7" textLength="103.6" lengthAdjust="spacingAndGlyphs">Unvaccinated Control</text>
<rect x="526.5" y="75.70" width="14.8" height="6.6" fill="url(#pd)" stroke="#141414" stroke-width="0.9"/>
<text x="549.6" y="82.50" font-size="11.7" textLength="121.7" lengthAdjust="spacingAndGlyphs">sRBC Vaccinated control</text>
<g transform="translate(526.5,93)"><rect x="0" y="0.30" width="14.8" height="6.6" fill="url(#pb)" stroke="#141414" stroke-width="0.9"/></g>
<text x="549.6" y="100.60" font-size="11.7" textLength="79.8" lengthAdjust="spacingAndGlyphs">IBDV vaccinated</text>
<g transform="translate(526.5,113.70)"><rect x="0" y="0" width="14.8" height="6.6" fill="url(#pf)" stroke="#141414" stroke-width="0.9"/></g>
<text x="549.6" y="120.00" font-size="11.7" textLength="134.7" lengthAdjust="spacingAndGlyphs">IBDV vaccine + Pam3CSK4</text>
<g transform="translate(526.5,132.90)"><rect x="0" y="0" width="14.8" height="6.6" fill="url(#pc)" stroke="#141414" stroke-width="0.9"/></g>
<text x="549.6" y="139.30" font-size="11.7" textLength="118.6" lengthAdjust="spacingAndGlyphs">IBDV vaccine + Poly I:C</text>
<g transform="translate(526.5,158.45)"><rect x="0" y="0" width="14.8" height="6.6" fill="url(#ph)" stroke="#141414" stroke-width="0.9"/></g>
<text x="549.6" y="158.70" font-size="11.7" textLength="131.8" lengthAdjust="spacingAndGlyphs">IBDV vaccine + Pam3CSK4</text>
<text x="549.6" y="171.50" font-size="11.7" textLength="49.4" lengthAdjust="spacingAndGlyphs">+ Poly I:C</text>
<g transform="translate(526.5,188.10)"><rect x="0" y="0" width="14.8" height="6.6" fill="url(#pg)" stroke="#141414" stroke-width="0.9"/></g>
<text x="549.6" y="189.10" font-size="11.7" textLength="131.8" lengthAdjust="spacingAndGlyphs">IBDV vaccine + Pam3CSK4</text>
<text x="549.6" y="202.10" font-size="11.7" textLength="104.1" lengthAdjust="spacingAndGlyphs">+ Poly I:C (half dose)</text>
</svg>
</body></html>
